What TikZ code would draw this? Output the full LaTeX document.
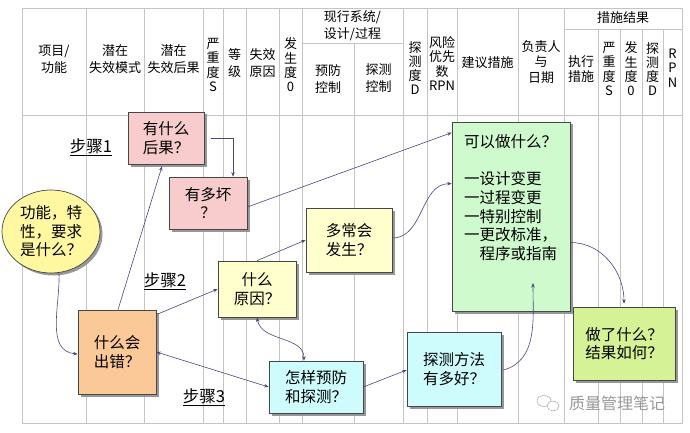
\documentclass[tikz,border=0pt]{standalone}
\usepackage{fontspec}
\setmainfont{Noto Sans CJK SC}
\usetikzlibrary{arrows.meta,shadows,shapes.geometric}
\definecolor{gridc}{RGB}{196,196,196}
\definecolor{conn}{RGB}{72,72,122}
\definecolor{pinkc}{RGB}{248,204,204}
\definecolor{ellc}{RGB}{255,248,160}
\definecolor{lyel}{RGB}{255,255,206}
\definecolor{orangec}{RGB}{251,200,152}
\definecolor{cyanc}{RGB}{206,252,252}
\definecolor{greenc}{RGB}{206,250,206}
\definecolor{ygreen}{RGB}{214,242,150}
\definecolor{boxline}{RGB}{70,70,70}
\tikzset{
  tbl/.style={draw=gridc, line width=0.6pt},
  hd/.style={inner sep=0pt, align=center, font=\fontsize{13}{17}\selectfont},
  hdv/.style={inner sep=0pt, align=center, font=\fontsize{13}{14.3}\selectfont},
  qbox/.style={draw=boxline, line width=0.7pt, inner sep=0pt, align=left,
    font=\fontsize{15.5}{18.5}\selectfont,
    drop shadow={shadow xshift=2.5pt, shadow yshift=-2.5pt, fill=black!45, opacity=0.9}},
  steplabel/.style={inner sep=0pt, font=\fontsize{16.5}{19}\selectfont},
  link/.style={draw=conn, line width=0.6pt, -{Stealth[length=4.5pt,width=3.5pt]}},
  dlink/.style={draw=conn, line width=0.6pt, {Stealth[length=4.5pt,width=3.5pt]}-{Stealth[length=4.5pt,width=3.5pt]}},
}
\begin{document}
\begin{tikzpicture}[x=1pt,y=-1pt]
\useasboundingbox (0,0) rectangle (690,433);
\fill[white] (0,0) rectangle (690,433);
% table grid
\draw[tbl] (22,8) rectangle (682,423);
\draw[tbl] (22,115) -- (682,115);
\draw[tbl] (302,43) -- (403,43);
\draw[tbl] (564,29) -- (682,29);
\foreach \x in {86,144,203,223,246,279,302,403,427,457,518,564} \draw[tbl] (\x,8) -- (\x,423);
\draw[tbl] (354,43) -- (354,423);
\foreach \x in {598,620,642,663} \draw[tbl] (\x,29) -- (\x,423);
% header texts
\node[hd] (h1) at (54,59) {项目/\\功能};
\node[hd] (h2) at (115,59) {潜在\\失效模式};
\node[hd] (h3) at (173.5,59) {潜在\\失效后果};
\node[hdv] (h4) at (213,65) {严\\重\\度\\S};
\node[hd] (h5) at (234.5,63) {等\\级};
\node[hd] (h6) at (262.5,63) {失效\\原因};
\node[hdv] (h7) at (290.5,65) {发\\生\\度\\0};
\node[hd] (h8) at (352.5,25.5) {现行系统/\\设计/过程};
\node[hd] (h9) at (328,79.5) {预防\\控制};
\node[hd] (h10) at (378.5,78) {探测\\控制};
\node[hdv] (h11) at (415,68) {探\\测\\度\\D};
\node[hdv] (h12) at (442,63.5) {风险\\优先\\数\\RPN};
\node[hd] (h13) at (487.5,63) {建议措施};
\node[hdv, font=\fontsize{13}{15.5}\selectfont] (h14) at (541,62) {负责人\\与\\日期};
\node[hd] (h15) at (623,18) {措施结果};
\node[hdv, font=\fontsize{13}{15.5}\selectfont] (h16) at (581,69) {执行\\措施};
\node[hdv] (h17) at (609,69) {严\\重\\度\\S};
\node[hdv] (h18) at (631,69) {发\\生\\度\\0};
\node[hdv] (h19) at (652.5,69) {探\\测\\度\\D};
\node[hdv] (h20) at (672.5,68) {R\\P\\N};
% step labels
\node[steplabel] (s1) at (91,147) {\underline{步骤1}};
\node[steplabel] (s2) at (165,281) {\underline{步骤2}};
\node[steplabel] (s3) at (204,397) {\underline{步骤3}};
% boxes
\node[qbox, fill=pinkc, minimum width=76, minimum height=52] (b1) at (166,138) {有什么\\后果？};
\node[qbox, fill=pinkc, align=center, minimum width=78, minimum height=52] (b2) at (208,203) {有多坏\\？};
\node[qbox, ellipse, fill=ellc, minimum width=98, minimum height=83] (ell) at (51,231.5) {功能，特\\性，要求\\是什么？};
\node[qbox, fill=lyel, minimum width=86, minimum height=64] (b3) at (349,240) {多常会\\发生？};
\node[qbox, fill=lyel, align=center, minimum width=78, minimum height=56] (b4) at (257,289) {什么\\原因？};
\node[qbox, fill=orangec, minimum width=78, minimum height=84] (b5) at (117,352) {什么会\\出错？};
\node[qbox, fill=cyanc, minimum width=94, minimum height=52] (b6) at (316,387) {怎样预防\\和探测？};
\node[qbox, fill=cyanc, minimum width=94, minimum height=74] (b7) at (454,369) {探测方法\\有多好？};
\node[qbox, fill=greenc, minimum width=118, minimum height=189] (b8) at (511,216.5) {};
\node[anchor=north west, inner sep=0pt, align=left, font=\fontsize{15.5}{18.7}\selectfont] (b8t) at (464,134) {可以做什么？\\[18.7pt]一设计变更\\一过程变更\\一特别控制\\一更改标准，\\\hspace*{1em}程序或指南};
\node[qbox, fill=ygreen, minimum width=102, minimum height=73] (b9) at (624,343.5) {做了什么？\\结果如何？};
% watermark
\node[inner sep=0pt, text=black!40, font=\fontsize{16}{18}\selectfont] (wm) at (617,403) {质量管理笔记};
\draw[black!35, line width=0.5pt] (544,401) ellipse (7 and 5.5);
\draw[black!35, line width=0.5pt, fill=white] (553,406) ellipse (6 and 4.8);
% connectors
\coordinate (c1) at ([xshift=7pt]b1.east);
\draw[link] (c1) -| ([xshift=25pt]b2.north);
\draw[link] ([xshift=1pt]b5.north) -- ([xshift=-4pt,yshift=-2pt]b1.south);
\draw[link] ([yshift=-4pt]b2.east) -- ([yshift=-11pt]b8.north west);
\draw[link] ([xshift=8pt]ell.south) to[out=-88,in=175] ([yshift=-2pt]b5.west);
\draw[link] ([yshift=-5pt]b5.north east) -- (b4.west);
\draw[link] (b4.north) -- (b3.west);
\draw[link] ([yshift=2pt]b3.east) to[out=0,in=180] ([yshift=-62pt]b8.north west);
\draw[dlink] (b4.south) to[out=-80,in=90] ([xshift=-12pt]b6.north);
\draw[dlink] (b5.east) -- (b6.west);
\draw[link] (b6.east) -- ([yshift=-1pt]b7.west);
\coordinate (b8in) at (533,283);
\draw[link] ([xshift=2pt,yshift=-1pt]b7.east) to[out=15,in=-90] (b8in);
\draw[link] ([yshift=-26pt]b8.east) to[out=0,in=90] ([yshift=3pt]b9.north);
\end{tikzpicture}
\end{document}
